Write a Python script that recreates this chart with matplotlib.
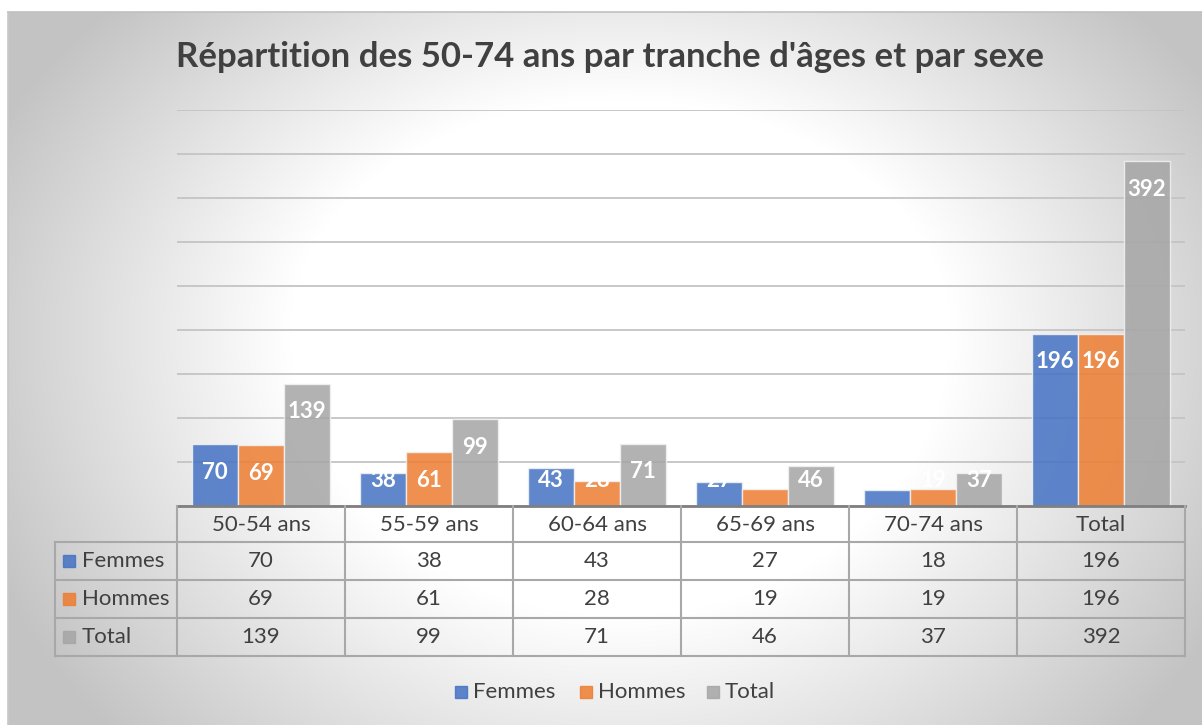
import numpy as np
import matplotlib
matplotlib.use("Agg")
import matplotlib.pyplot as plt
from matplotlib.patches import Rectangle

categories = ["50-54 ans", "55-59 ans", "60-64 ans", "65-69 ans", "70-74 ans", "Total"]
series_names = ["Femmes", "Hommes", "Total"]
femmes = [70, 38, 43, 27, 18, 196]
hommes = [69, 61, 28, 19, 19, 196]
total = [139, 99, 71, 46, 37, 392]
series = [femmes, hommes, total]
colors = ["#4472C4", "#ED7D31", "#A5A5A5"]

W, H = 1202, 725
plt.rcParams['font.family'] = ['Lato', 'DejaVu Sans']
fig = plt.figure(figsize=(W / 100, H / 100), dpi=100)

# background: radial gradient like the Excel chart area
bg = fig.add_axes([0, 0, 1, 1])
yy, xx = np.mgrid[0:H, 0:W]
ry = np.where(yy < 330, 420.0, 520.0)
r = np.hypot((xx - 620) / 600.0, (yy - 330) / ry)
t = np.clip((r - 0.55) / 0.6, 0, 1)
g = 255 - 60 * t
img = np.dstack([g, g, g]) / 255.0
img[:12, :, :] = 1.0
img[:, :8, :] = 1.0
bg.imshow(img, extent=(0, W, H, 0), interpolation="bilinear")
bg.plot([8, W], [12, 12], color="#c0c0c0", lw=1.2)
bg.plot([8, 8], [12, H], color="#c8c8c8", lw=1.2)
bg.set_xlim(0, W)
bg.set_ylim(H, 0)
bg.axis("off")

# plot area
left, right, top, base = 177, 1185, 110, 506
ax = fig.add_axes([left / W, (H - base) / H, (right - left) / W, (base - top) / H])
ax.patch.set_alpha(0)
ax.set_xlim(-0.5, 5.5)
ax.set_ylim(0, 450)
ax.set_yticks(np.arange(0, 451, 50))
ax.yaxis.grid(True, color="#c4c4c4", lw=1.3, zorder=0)
ax.set_axisbelow(True)
ax.tick_params(left=False, bottom=False, labelleft=False, labelbottom=False)
for s in ["left", "right", "top"]:
    ax.spines[s].set_visible(False)
ax.spines["bottom"].set_color("#7f7f7f")
ax.spines["bottom"].set_linewidth(2)

x = np.arange(len(categories))
bw = 0.274
for k, (vals, c) in enumerate(zip(series, colors)):
    xs = x + (k - 1) * bw
    ax.bar(xs, vals, width=bw, color=c, alpha=0.85, edgecolor="#f2f2f2",
           linewidth=1, zorder=2)
    for xi, v in zip(xs, vals):
        ax.text(xi, max(v - 32, 29), str(v), ha="center", va="center",
                color="white", fontsize=16, fontweight="bold", zorder=3)

# overlay in pixel coords for title, table and legend
ov = fig.add_axes([0, 0, 1, 1])
ov.patch.set_alpha(0)
ov.set_xlim(0, W)
ov.set_ylim(H, 0)
ov.axis("off")

ov.text(610, 57, "Répartition des 50-74 ans par tranche d'âges et par sexe",
        ha="center", va="center", fontsize=25, fontweight="bold", color="#404040")

edges = np.linspace(left, right, len(categories) + 1)
centers = (edges[:-1] + edges[1:]) / 2
row_y = [506, 542, 580, 618, 656]
tab_left = 55
lc = "#a8a8a8"
txt_c = "#404040"
fs = 16

# header row
for e in edges:
    ov.plot([e, e], [row_y[0], row_y[-1]], color=lc, lw=1.5)
for yv in row_y[1:]:
    ov.plot([tab_left, right], [yv, yv], color=lc, lw=1.5)
ov.plot([tab_left, tab_left], [row_y[1], row_y[-1]], color=lc, lw=1.5)
for cx, cat in zip(centers, categories):
    ov.text(cx, (row_y[0] + row_y[1]) / 2 + 1, cat, ha="center", va="center",
            fontsize=fs, color=txt_c)

for k, (name, vals, c) in enumerate(zip(series_names, series, colors)):
    yc = (row_y[k + 1] + row_y[k + 2]) / 2
    ov.add_patch(Rectangle((63, yc - 6), 12, 12, color=c, alpha=0.85))
    ov.text(82, yc, name, ha="left", va="center", fontsize=fs, color=txt_c)
    for cx, v in zip(centers, vals):
        ov.text(cx, yc, str(v), ha="center", va="center", fontsize=fs, color=txt_c)

# legend
leg_x = [455, 580, 707]
for lx, name, c in zip(leg_x, series_names, colors):
    ov.add_patch(Rectangle((lx, 686), 12, 12, color=c, alpha=0.85))
    ov.text(lx + 18, 692, name, ha="left", va="center", fontsize=fs, color=txt_c)

fig.savefig("out.png", dpi=100)
